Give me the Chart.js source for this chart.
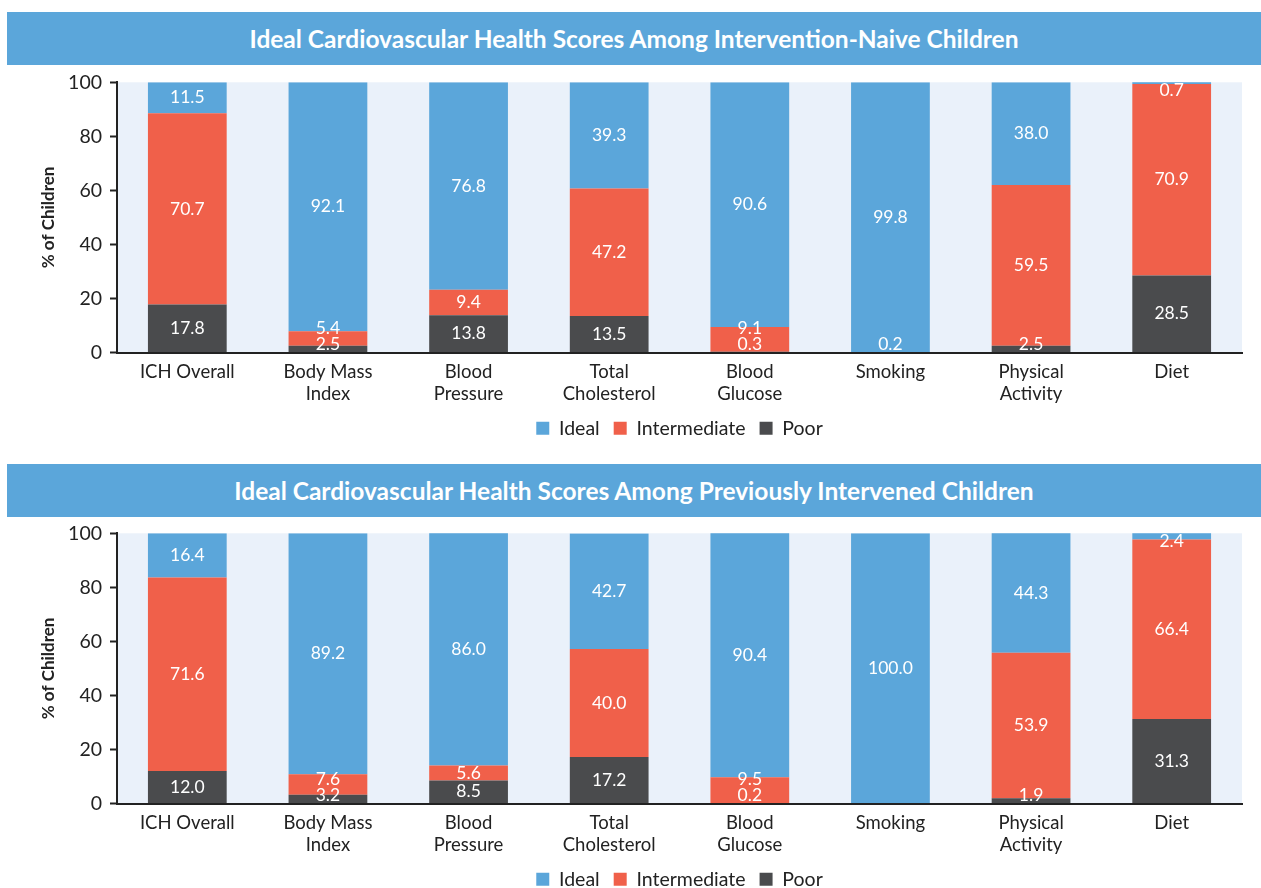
<!DOCTYPE html>
<html>
<head>
<meta charset="utf-8">
<script src="https://cdn.jsdelivr.net/npm/chart.js@4.4.1/dist/chart.umd.min.js"></script>
<style>
  body { margin: 0; background: #fff; width: 1261px; height: 888px; overflow: hidden; position: relative; font-family: Lato, sans-serif; }
  .bar-title { position: absolute; left: 7px; width: 1254px; height: 53px; background: #5ba6da; color: #fff;
    font-weight: bold; font-size: 24.5px; line-height: 53px; text-align: center; }
  .wrap { position: absolute; left: 0; width: 1261px; height: 392px; }
</style>
</head>
<body>
<div class="bar-title" style="top:12px">Ideal Cardiovascular Health Scores Among Intervention-Naive Children</div>
<div class="wrap" style="top:66px"><canvas id="naive"></canvas></div>
<div class="bar-title" style="top:464px">Ideal Cardiovascular Health Scores Among Previously Intervened Children</div>
<div class="wrap" style="top:517px"><canvas id="intervened"></canvas></div>
<script>
const categories = ["ICH Overall", ["Body Mass", "Index"], ["Blood", "Pressure"], ["Total", "Cholesterol"],
  ["Blood", "Glucose"], "Smoking", ["Physical", "Activity"], "Diet"];
const yTicks = [0, 20, 40, 60, 80, 100];

// intervention-naive children
const naiveIdeal = [11.5, 92.1, 76.8, 39.3, 90.6, 99.8, 38.0, 0.7];
const naiveIntermediate = [70.7, 5.4, 9.4, 47.2, 9.1, 0, 59.5, 70.9];
const naivePoor = [17.8, 2.5, 13.8, 13.5, 0.3, 0.2, 2.5, 28.5];

// previously intervened children
const intIdeal = [16.4, 89.2, 86.0, 42.7, 90.4, 100.0, 44.3, 2.4];
const intIntermediate = [71.6, 7.6, 5.6, 40.0, 9.5, 0, 53.9, 66.4];
const intPoor = [12.0, 3.2, 8.5, 17.2, 0.2, 0, 1.9, 31.3];

const BLUE = '#5ba6da', RED = '#f0604a', DARK = '#4a4b4d';
const FONT = 'Lato, sans-serif';

// light blue plot background
const plotBg = {
  id: 'plotBg',
  beforeDraw(chart) {
    const a = chart.chartArea, ctx = chart.ctx;
    ctx.save();
    ctx.fillStyle = '#eaf1fa';
    ctx.fillRect(a.left, a.top, a.right - a.left, a.bottom - a.top);
    ctx.restore();
  }
};

// value labels inside segments, pushed apart when segments are thin
const segLabels = {
  id: 'segLabels',
  afterDatasetsDraw(chart) {
    const ctx = chart.ctx, top = chart.chartArea.top;
    ctx.save();
    ctx.fillStyle = '#fff';
    ctx.font = '17.5px ' + FONT;
    ctx.textAlign = 'center';
    ctx.textBaseline = 'middle';
    const n = chart.data.labels.length;
    for (let i = 0; i < n; i++) {
      let prev = null;
      chart.data.datasets.forEach((ds, d) => {
        const v = ds.data[i];
        if (!v) return;
        const el = chart.getDatasetMeta(d).data[i];
        let y = (el.y + el.base) / 2;
        if (prev === null) y = Math.min(y, el.base - 8);
        else y = Math.min(y, prev - 16);
        y = Math.max(y, top + 8);
        prev = y;
        ctx.fillText(v.toFixed(1), el.x, y);
      });
    }
    ctx.restore();
  }
};

function makeChart(id, ideal, intermediate, poor) {
  return new Chart(document.getElementById(id), {
    type: 'bar',
    data: {
      labels: categories,
      datasets: [
        { label: 'Poor', data: poor, backgroundColor: DARK },
        { label: 'Intermediate', data: intermediate, backgroundColor: RED },
        { label: 'Ideal', data: ideal, backgroundColor: BLUE }
      ]
    },
    options: {
      responsive: true,
      maintainAspectRatio: false,
      animation: false,
      layout: { padding: { top: 14, right: 19, bottom: 10, left: 0 } },
      datasets: { bar: { barPercentage: 0.56, categoryPercentage: 1 } },
      plugins: {
        tooltip: { enabled: false },
        legend: {
          position: 'bottom',
          fullSize: false,
          reverse: true,
          labels: { boxWidth: 13, boxHeight: 13, padding: 14, color: '#222', font: { family: FONT, size: 19.5 } }
        }
      },
      scales: {
        x: {
          stacked: true,
          grid: { display: false, drawTicks: false },
          border: { color: '#222', width: 2 },
          ticks: { color: '#222', padding: 8, font: { family: FONT, size: 18.5, lineHeight: 1.2 } },
          afterFit(s) { s.height = 52; }
        },
        y: {
          stacked: true,
          min: 0, max: 100,
          afterBuildTicks(s) { s.ticks = yTicks.map(v => ({ value: v })); },
          grid: { drawOnChartArea: false, tickLength: 7, color: '#222', tickWidth: 2 },
          border: { color: '#222', width: 2 },
          ticks: { color: '#222', padding: 8, font: { family: FONT, size: 19.5, lineHeight: 0.85 } },
          title: { display: true, text: '% of Children', color: '#222', font: { family: FONT, size: 17, weight: 'bold' }, padding: { top: 38, bottom: 0 } },
          afterFit(s) { s.width = 117; }
        }
      }
    },
    plugins: [plotBg, segLabels]
  });
}

makeChart('naive', naiveIdeal, naiveIntermediate, naivePoor);
makeChart('intervened', intIdeal, intIntermediate, intPoor);
</script>
</body>
</html>
